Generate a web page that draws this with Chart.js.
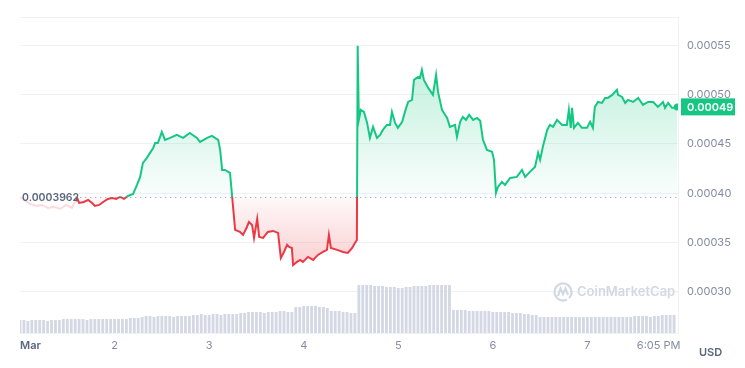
<!DOCTYPE html>
<html><head><meta charset="utf-8">
<script src="https://cdn.jsdelivr.net/npm/chart.js@4.4.1/dist/chart.umd.min.js"></script>
<style>html,body{margin:0;padding:0;background:#fff;overflow:hidden}#wrap{width:745px;height:368px}</style>
</head><body><div id="wrap"><canvas id="c" width="745" height="368"></canvas></div>
<script>
// hours since Mar 1 00:00
const hours = [0,1.0,2.5,4.1,5.6,7.1,8.6,10.2,11.7,13.2,14.5,15.0,16.2,17.3,18.3,19.0,20.1,21.1,22.3,23.4,24.4,25.4,26.4,27.4,28.7,29.7,30.5,31.2,32.2,33.0,33.8,34.3,35.0,36.0,36.8,38.1,39.8,41.4,43.1,44.9,45.7,47.5,48.7,49.5,50.3,50.8,51.3,52.0,53.3,53.8,54.6,55.8,56.6,57.6,58.1,58.9,59.4,60.2,60.7,61.7,62.9,64.2,65.5,66.2,67.0,67.8,68.3,69.0,69.3,70.3,71.1,71.8,73.1,74.4,75.6,76.9,77.9,78.4,78.9,80.5,82.0,83.2,84.3,85.0,85.5,85.7,86.0,86.5,87.3,88.1,88.8,89.6,90.6,91.4,92.1,93.1,93.9,94.4,95.2,95.9,97.0,97.7,98.5,99.5,100.0,101.0,101.5,102.0,102.5,103.6,104.8,105.6,106.1,107.1,108.4,109.1,110.4,110.9,111.7,112.4,113.2,114.0,115.0,116.0,116.8,117.5,118.5,119.8,120.3,120.8,121.3,122.3,123.1,124.4,126.1,127.4,128.2,129.4,130.7,131.5,132.0,132.7,133.8,134.5,135.3,136.3,137.6,138.8,139.3,139.8,140.1,140.6,141.6,142.6,143.9,144.7,145.4,145.9,146.7,147.7,148.5,149.2,150.3,151.5,151.8,152.8,153.6,154.3,155.6,156.9,158.1,159.4,160.7,161.9,163.2,163.7,164.5,165.5,166.8];
const prices = [0.0003962,0.0003932,0.0003891,0.0003871,0.0003881,0.0003851,0.0003861,0.0003840,0.0003881,0.0003851,0.0003952,0.0003901,0.0003911,0.0003932,0.0003901,0.0003871,0.0003881,0.0003911,0.0003942,0.0003952,0.0003942,0.0003962,0.0003942,0.0003972,0.0003993,0.0004084,0.0004166,0.0004308,0.0004359,0.0004410,0.0004460,0.0004511,0.0004511,0.0004623,0.0004542,0.0004562,0.0004592,0.0004562,0.0004613,0.0004562,0.0004521,0.0004562,0.0004582,0.0004562,0.0004542,0.0004440,0.0004237,0.0004237,0.0004206,0.0003983,0.0003627,0.0003607,0.0003576,0.0003657,0.0003708,0.0003678,0.0003546,0.0003739,0.0003556,0.0003546,0.0003607,0.0003617,0.0003597,0.0003342,0.0003403,0.0003475,0.0003454,0.0003444,0.0003271,0.0003302,0.0003322,0.0003302,0.0003353,0.0003322,0.0003373,0.0003403,0.0003424,0.0003576,0.0003444,0.0003424,0.0003403,0.0003393,0.0003444,0.0003495,0.0003525,0.0005497,0.0004745,0.0004846,0.0004826,0.0004714,0.0004562,0.0004674,0.0004562,0.0004592,0.0004643,0.0004694,0.0004694,0.0004826,0.0004714,0.0004664,0.0004725,0.0004826,0.0004927,0.0004948,0.0005151,0.0005181,0.0005171,0.0005252,0.0005151,0.0005070,0.0004999,0.0005202,0.0005029,0.0004846,0.0004765,0.0004674,0.0004694,0.0004572,0.0004725,0.0004775,0.0004745,0.0004796,0.0004745,0.0004765,0.0004735,0.0004542,0.0004440,0.0004420,0.0004339,0.0004003,0.0004064,0.0004115,0.0004084,0.0004155,0.0004166,0.0004237,0.0004166,0.0004217,0.0004267,0.0004410,0.0004339,0.0004471,0.0004643,0.0004694,0.0004674,0.0004745,0.0004694,0.0004694,0.0004846,0.0004664,0.0004867,0.0004664,0.0004714,0.0004664,0.0004664,0.0004725,0.0004664,0.0004877,0.0004927,0.0004917,0.0004968,0.0004968,0.0004999,0.0005050,0.0004999,0.0004978,0.0004917,0.0004948,0.0004927,0.0004968,0.0004897,0.0004927,0.0004927,0.0004877,0.0004927,0.0004867,0.0004917,0.0004867,0.0004877];
// hourly volume (relative units), hour 0..166
const volumes = [13,13,12,13,13,13,13,12,13,13,13,
 14,14,14,14,14,14,13,14,14,14,14,14,14,14,14,14,14,15,15,15,
 16,17,17,16,17,17,17,17,16,17,17,17,17,
 18,18,19,18,18,19,19,18,19,19,19,19,
 20,20,21,21,21,21,20,21,21,21,22,22,21,21,
 26,26,27,27,27,27,26,26,25,
 22,22,22,21,21,20,20,
 48,48,48,48,47,47,47,46,46,46,45,45,46,46,47,47,47,47,48,48,48,48,48,48,
 23,23,23,23,22,22,22,22,22,22,21,21,21,21,21,20,20,20,
 19,19,18,18,
 16,16,16,16,16,16,16,16,16,16,16,16,16,16,16,16,16,16,16,16,16,16,16,16,17,17,17,17,16,17,17,
 18,18,18,18];
const baselinePrice = 0.0003962;
const baselineLabel = '0.0003962';
const yTicks = [0.00030,0.00035,0.00040,0.00045,0.00050,0.00055];
const xTickHours = [0,24,48,72,96,120,144,162.1];
const xTickLabels = ['Mar','2','3','4','5','6','7','6:05 PM'];
const lastPriceLabel = '0.00049';
const unitLabel = 'USD';
const watermark = 'CoinMarketCap';

const GREEN = '#16c784', RED = '#ea3943';
const FONT = 'Inter, "Open Sans", sans-serif';

const priceData = hours.map((h,i)=>({x:h, y:prices[i]}));
const volData = volumes.map((v,i)=>({x:i, y:v}));

const overlay = {
  id:'overlay',
  beforeDatasetsDraw(chart){
    const {ctx, chartArea:ca, scales:{y}} = chart;
    ctx.save();
    ctx.strokeStyle='#eff2f5'; ctx.lineWidth=1;
    ctx.beginPath(); ctx.moveTo(ca.left, ca.top+0.5); ctx.lineTo(ca.right, ca.top+0.5); ctx.stroke();
    const wx=563, wy=292;
    ctx.strokeStyle='#d3d8e2'; ctx.lineWidth=2.2;
    ctx.beginPath(); ctx.arc(wx, wy, 8.5, 0.35*Math.PI, 2.25*Math.PI); ctx.stroke();
    ctx.beginPath(); ctx.moveTo(wx-5, wy+4); ctx.lineTo(wx-2.5,wy-3.5); ctx.lineTo(wx,wy+2); ctx.lineTo(wx+2.5,wy-3.5); ctx.lineTo(wx+5,wy+3); ctx.stroke();
    ctx.fillStyle='#d3d8e2'; ctx.font='600 13px '+FONT; ctx.textBaseline='middle'; ctx.textAlign='left';
    ctx.fillText(watermark, 577, wy+0.5);
    const by = Math.round(y.getPixelForValue(baselinePrice))+0.5;
    ctx.strokeStyle='#a9b1c2'; ctx.lineWidth=1; ctx.setLineDash([1.3,3.7]);
    ctx.beginPath(); ctx.moveTo(ca.left,by); ctx.lineTo(ca.right,by); ctx.stroke();
    ctx.restore();
  },
  afterDatasetsDraw(chart){
    const {ctx, chartArea:ca, scales:{x,y}} = chart;
    ctx.save();
    const by = y.getPixelForValue(baselinePrice);
    ctx.fillStyle='rgba(255,255,255,0.82)';
    ctx.fillRect(ca.left, by-10, 56, 24);
    ctx.fillStyle='#58667e'; ctx.font='600 10.5px '+FONT; ctx.textBaseline='middle'; ctx.textAlign='left';
    ctx.fillText(baselineLabel, ca.left+2, by+0.5);
    const ly = y.getPixelForValue(prices[prices.length-1]);
    ctx.fillStyle=GREEN; ctx.fillRect(681, ly-8.5, 54, 17);
    ctx.fillStyle='#ffffff'; ctx.font='600 11px '+FONT;
    ctx.fillText(lastPriceLabel, 687, ly+0.5);
    xTickHours.forEach((h,i)=>{
      const px = x.getPixelForValue(h);
      if(i===0){ ctx.textAlign='left'; ctx.fillStyle='#58667e'; ctx.font='600 11px '+FONT; ctx.fillText(xTickLabels[i], px, 346); }
      else { ctx.textAlign='center'; ctx.fillStyle='#858ca2'; ctx.font='400 11px '+FONT; ctx.fillText(xTickLabels[i], px, 346); }
    });
    ctx.textAlign='left'; ctx.fillStyle='#58667e'; ctx.font='600 11px '+FONT;
    ctx.fillText(unitLabel, 699, 353);
    ctx.restore();
  }
};

const ctx = document.getElementById('c').getContext('2d');
const chart = new Chart(ctx, {
  type:'line',
  data:{datasets:[
    {type:'line', data:priceData, yAxisID:'y', order:0, borderColor:GREEN, borderWidth:2, tension:0,
     pointRadius:(c)=> c.dataIndex===priceData.length-1 ? 3.5 : 0, pointBackgroundColor:GREEN, pointBorderWidth:0,
     fill:false},
    {type:'bar', data:volData, yAxisID:'yv', order:1, backgroundColor:'#d3d8e4', categoryPercentage:1, barPercentage:0.72}
  ]},
  options:{
    responsive:false, animation:false, events:[],
    layout:{padding:{left:20, top:17, right:0, bottom:0}},
    plugins:{legend:{display:false}, tooltip:{enabled:false}},
    scales:{
      x:{type:'linear', min:0, max:167, offset:false, grid:{display:false, drawTicks:false},
         border:{display:true, color:'#eff2f5'}, ticks:{display:false},
         afterFit(s){ s.height=35; }},
      y:{position:'right', min:0.000258, max:0.000579,
         afterBuildTicks(s){ s.ticks = yTicks.map(v=>({value:v})); },
         grid:{color:'#eff2f5', drawTicks:false}, border:{display:true, color:'#eff2f5'},
         ticks:{padding:9, color:'#858ca2', font:{family:FONT, size:11}, callback:(v)=>Number(v).toFixed(5)},
         afterFit(s){ s.width=67; }},
      yv:{display:false, min:0, max:316}
    }
  },
  plugins:[overlay]
});

const ca = chart.chartArea, ys = chart.scales.y;
const by = ys.getPixelForValue(baselinePrice);
const stop = Math.min(Math.max((by-ca.top)/(ca.bottom-ca.top),0),1);
const lineGrad = ctx.createLinearGradient(0, ca.top, 0, ca.bottom);
lineGrad.addColorStop(0, GREEN); lineGrad.addColorStop(stop, GREEN);
lineGrad.addColorStop(stop, RED); lineGrad.addColorStop(1, RED);
const topY = ys.getPixelForValue(Math.max(...prices));
const botY = ys.getPixelForValue(Math.min(...prices));
const upGrad = ctx.createLinearGradient(0, topY, 0, by);
upGrad.addColorStop(0, 'rgba(22,199,132,0.30)'); upGrad.addColorStop(1, 'rgba(22,199,132,0.02)');
const dnGrad = ctx.createLinearGradient(0, by, 0, botY);
dnGrad.addColorStop(0, 'rgba(234,57,67,0.03)'); dnGrad.addColorStop(1, 'rgba(234,57,67,0.24)');
chart.data.datasets[0].borderColor = lineGrad;
chart.data.datasets[0].fill = {target:{value:baselinePrice}, above:upGrad, below:dnGrad};
chart.update('none');
</script>
</body></html>
